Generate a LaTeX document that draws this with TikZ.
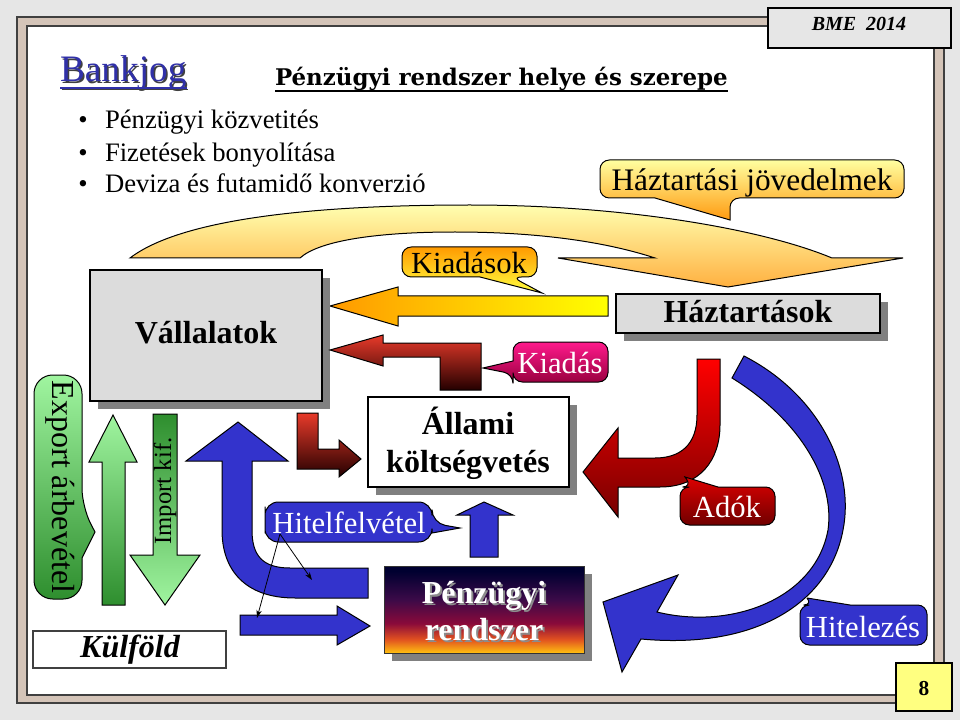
\documentclass[tikz,border=0pt]{standalone}
\usepackage{fontspec}
\setmainfont{Liberation Serif}
\newfontfamily\titlefont{DejaVu Serif}
\usetikzlibrary{arrows.meta}
\definecolor{bgray}{HTML}{E6E6E6}
\definecolor{tanc}{HTML}{D4C4B8}
\definecolor{darkline}{HTML}{404040}
\definecolor{bankblue}{HTML}{3030A8}
\definecolor{pageyellow}{HTML}{FFFF80}
\definecolor{myblue}{HTML}{3333CC}
\definecolor{boxgray}{HTML}{DCDCDC}
\definecolor{shadowgray}{HTML}{808080}
\definecolor{archtop}{HTML}{FFFFB0}
\definecolor{archbot}{HTML}{FFB040}
\definecolor{hjtop}{HTML}{FFFFA0}
\definecolor{hjbot}{HTML}{FF9A10}
\definecolor{kstop}{HTML}{FF9A00}
\definecolor{ksbot}{HTML}{FFFF40}
\definecolor{yarrL}{HTML}{FF9900}
\definecolor{yarrR}{HTML}{FFFF00}
\definecolor{redtop}{HTML}{E83A2A}
\definecolor{redbot}{HTML}{240000}
\definecolor{kdtop}{HTML}{FF1A8C}
\definecolor{kdbot}{HTML}{9A0040}
\definecolor{adarrtop}{HTML}{FF0000}
\definecolor{adarrbot}{HTML}{780000}
\definecolor{adtop}{HTML}{DD0000}
\definecolor{adbot}{HTML}{700000}
\definecolor{pztop}{HTML}{000030}
\definecolor{pzpurple}{HTML}{3A0A48}
\definecolor{pzmid}{HTML}{8A0A3A}
\definecolor{pzorange}{HTML}{E05020}
\definecolor{pzbot}{HTML}{FFC010}
\definecolor{glight}{HTML}{A0F5A0}
\definecolor{gdark}{HTML}{2E8E2E}
\pgfdeclareverticalshading{pzshade}{100bp}{color(0bp)=(pzbot); color(25bp)=(pzbot); color(33bp)=(pzorange); color(42bp)=(pzmid); color(56bp)=(pzpurple); color(72bp)=(pztop); color(100bp)=(pztop)}
\tikzset{
  ol/.style={draw=black,line width=0.75pt},
  boxthick/.style={draw=black,line width=2.2pt},
  txt/.style={inner sep=0pt,outer sep=0pt},
  fbul/.style={font=\fontsize{20pt}{24pt}\selectfont},
  fcall/.style={font=\fontsize{23pt}{27pt}\selectfont},
  fbox/.style={font=\fontsize{24pt}{28pt}\selectfont\bfseries},
}
\begin{document}
\begin{tikzpicture}[x=0.75pt,y=-0.75pt]
\useasboundingbox (0,0) rectangle (960,720);
\fill[bgray] (0,0) rectangle (960,720);
\filldraw[fill=tanc,draw=darkline,line width=0.8pt] (17,17) rectangle (944,703);
\filldraw[fill=white,draw=darkline,line width=0.8pt] (27,26) rectangle (934,695);

% titles
\node[txt,anchor=base west,font=\fontsize{28pt}{32pt}\selectfont,text=black!75] (bankjogsh) at (61.5,83.5) {Bankjog};
\draw[black!75,line width=1.1pt] ([yshift=-4.5pt]bankjogsh.base west) -- ([yshift=-4.5pt]bankjogsh.base east);
\node[txt,anchor=base west,font=\fontsize{28pt}{32pt}\selectfont,text=bankblue] (bankjog) at (60,82) {Bankjog};
\draw[bankblue,line width=1.1pt] ([yshift=-4.5pt]bankjog.base west) -- ([yshift=-4.5pt]bankjog.base east);
\node[txt,anchor=base west,font=\fontsize{17.2pt}{20pt}\selectfont\titlefont\bfseries] (title) at (275,86) {Pénzügyi rendszer helye és szerepe};
\draw[black,line width=1.1pt] ([yshift=-3.9pt]title.base west) -- ([yshift=-3.9pt]title.base east);

% bullets
\node[txt,anchor=base,fbul] (b1) at (83,129) {\textbullet};
\node[txt,anchor=base,fbul] (b2) at (83,162) {\textbullet};
\node[txt,anchor=base,fbul] (b3) at (83,193) {\textbullet};
\node[txt,anchor=base west,fbul] (t1) at (105,129) {Pénzügyi közvetités};
\node[txt,anchor=base west,fbul] (t2) at (105,162) {Fizetések bonyolítása};
\node[txt,anchor=base west,fbul] (t3) at (105,193) {Deviza és futamidő konverzió};

% big yellow arch
\shadedraw[ol,top color=archtop,bottom color=archbot] (130,258) .. controls (185,216) and (330,205) .. (470,205) .. controls (620,205) and (760,228) .. (832,258) -- (903,258) -- (728,287) -- (558,258) -- (655,258) .. controls (600,240) and (530,232) .. (455,232) .. controls (380,232) and (320,240) .. (300,258) -- cycle;

% Haztartasi jovedelmek callout
\shadedraw[ol,top color=hjtop,bottom color=hjbot] (700,160) [rounded corners=7pt] -- (904,160) -- (904,198) -- (730,198) [sharp corners] -- (730,220) -- (655,198) [rounded corners=7pt] -- (600,198) -- (600,160) -- cycle;
\node[txt,anchor=base,font=\fontsize{23.5pt}{27pt}\selectfont] (hj) at (752,191) {Háztartási jövedelmek};

% Kiadasok callout
\shadedraw[ol,top color=kstop,bottom color=ksbot] (470,247) [rounded corners=7pt] -- (537,247) -- (537,277) -- (512,277) [sharp corners] -- (542,293) -- (480,277) [rounded corners=7pt] -- (402,277) -- (402,247) -- cycle;
\node[txt,anchor=base,fcall] (kiadasok) at (469,274) {Kiadások};

% yellow left arrow
\shadedraw[ol,left color=yarrL,right color=yarrR] (608,296) -- (608,316) -- (398,316) -- (398,326) -- (330,306) -- (398,287) -- (398,296) -- cycle;

% Vallalatok
\fill[shadowgray] (98,278) rectangle (330,409);
\filldraw[fill=boxgray,boxthick] (90,270) rectangle (322,401);
\node[txt,anchor=base,fbox] (vall) at (206,344) {Vállalatok};

% Haztartasok
\fill[shadowgray] (624,302) rectangle (888,341);
\filldraw[fill=boxgray,boxthick] (616,294) rectangle (880,333);
\node[txt,anchor=base,fbox] (hazt) at (748,322) {Háztartások};

% Allami koltsegvetes
\fill[shadowgray] (376,405) rectangle (577,495);
\filldraw[fill=white,boxthick] (368,397) rectangle (569,487);
\node[txt,anchor=base,fbox] (allami1) at (468,434) {Állami};
\node[txt,anchor=base,fbox] (allami2) at (468,472) {költségvetés};

% red L arrow (Kiadas)
\shadedraw[ol,top color=redtop,bottom color=redbot] (481,343) -- (481,390) -- (440,390) -- (440,357) -- (383,357) -- (383,366) -- (330,350) -- (383,335) -- (383,343) -- cycle;
% small red L arrow
\shadedraw[ol,top color=redtop,bottom color=redbot] (297,413) -- (318,413) -- (318,449) -- (339,449) -- (339,440) -- (361,459) -- (339,477) -- (339,469) -- (297,469) -- cycle;

% Kiadas callout
\shadedraw[ol,top color=kdtop,bottom color=kdbot] (560,342) [rounded corners=7pt] -- (608,342) -- (608,382) -- (513,382) -- (513,374) [sharp corners] -- (483,368) -- (513,361) [rounded corners=7pt] -- (513,342) -- cycle;
\node[txt,anchor=base,fcall,text=white] (kiadas) at (560,373) {Kiadás};

% Adok curved arrow
\shadedraw[ol,top color=adarrtop,bottom color=adarrbot] (697,359) -- (697,415) .. controls (697,445) and (680,458) .. (655,458) -- (618,458) -- (618,428) -- (583,472) -- (618,517) -- (618,487) -- (660,487) .. controls (700,487) and (720,460) .. (720,425) -- (720,359) -- cycle;
% Adok callout
\shadedraw[ol,top color=adtop,bottom color=adbot] (740,487) [rounded corners=7pt] -- (775,487) -- (775,525) -- (680,525) -- (680,487) -- (692,487) [sharp corners] -- (685,477) -- (718,487) [rounded corners=7pt] -- cycle;
\node[txt,anchor=base,fcall,text=white] (adok) at (727,517) {Adók};

% blue curved arrow (Hitelezes)
\filldraw[ol,fill=myblue] (744,356) .. controls (820,395) and (855,470) .. (843,530) .. controls (830,600) and (760,650) .. (641,639) -- (622,672) -- (603,602) -- (678,575) -- (657,612) .. controls (730,630) and (815,600) .. (828,530) .. controls (835,480) and (800,420) .. (732,378) -- cycle;
% Hitelezes callout
\filldraw[ol,fill=myblue] (880,605) [rounded corners=7pt] -- (927,605) -- (927,645) -- (800,645) -- (800,605) -- (813,605) [sharp corners] -- (807,598) -- (850,605) [rounded corners=7pt] -- cycle;
\node[txt,anchor=base,fcall,text=white] (hitelezes) at (863,637) {Hitelezés};

% blue U arrow
\filldraw[ol,fill=myblue] (222,461) -- (186,461) -- (238,422) -- (288,461) -- (252,461) -- (252,530) .. controls (252,555) and (262,568) .. (290,568) -- (368,568) -- (368,598) -- (295,598) .. controls (245,598) and (222,570) .. (222,530) -- cycle;
% blue right arrow
\filldraw[ol,fill=myblue] (240,615) -- (337,615) -- (337,606) -- (370,626) -- (337,645) -- (337,635) -- (240,635) -- cycle;
% Hitelfelvetel callout
\filldraw[ol,fill=myblue] (265,520) [rounded corners=10pt] -- (265,502) -- (432,502) -- (432,523) [sharp corners] -- (460,528) -- (432,533) [rounded corners=10pt] -- (432,542) -- (265,542) -- cycle;
\node[txt,anchor=base,fcall,text=white] (hitelf) at (349,533) {Hitelfelvétel};
% blue up arrow
\filldraw[ol,fill=myblue] (470,557) -- (470,515) -- (457,515) -- (484,502) -- (513,515) -- (498,515) -- (498,557) -- cycle;

% Penzugyi rendszer
\fill[shadowgray] (392,574) rectangle (592,661);
\shadedraw[shading=pzshade,draw=black!80,line width=0.75pt] (384,566) rectangle (584,653);
\node[txt,anchor=base,fbox,text=black!45] (pr1sh) at (486,605) {Pénzügyi};
\node[txt,anchor=base,fbox,text=black!45] (pr2sh) at (486,642) {rendszer};
\node[txt,anchor=base,fbox,text=white] (pr1) at (484,603) {Pénzügyi};
\node[txt,anchor=base,fbox,text=white] (pr2) at (484,640) {rendszer};

% green arrows
\shadedraw[ol,top color=glight,bottom color=gdark] (34,480) [rounded corners=14pt] -- (34,375) -- (82,375) -- (82,507) [sharp corners] -- (95,532) -- (82,558) [rounded corners=14pt] -- (82,599) -- (34,599) -- cycle;
\node[txt,rotate=-90,font=\fontsize{24pt}{28pt}\selectfont] (export) at (60,487) {Export árbevétel};
\shadedraw[ol,top color=glight,bottom color=gdark] (102,605) -- (102,462) -- (89,462) -- (113,415) -- (137,462) -- (125,462) -- (125,605) -- cycle;
\shadedraw[ol,top color=gdark,bottom color=glight] (153,414) -- (177,414) -- (177,555) -- (200,555) -- (165,605) -- (130,555) -- (153,555) -- cycle;
\node[txt,rotate=90,font=\fontsize{18.5pt}{22pt}\selectfont] (import) at (165,491) {Import kif.};

% Kulfold
\filldraw[fill=white,draw=darkline,line width=0.9pt] (33,631) rectangle (226,668);
\node[txt,anchor=base,font=\fontsize{24pt}{28pt}\selectfont\bfseries\itshape] (kulf) at (130,657) {Külföld};

% thin arrows from Hitelfelvetel
\coordinate (hfsrc) at (280,534);
\coordinate (hfa) at (312,580);
\coordinate (hfb) at (257,618);
\draw[line width=0.6pt,-{Stealth[length=6pt,width=4pt]}] (hfsrc) -- (hfa);
\draw[line width=0.6pt,-{Stealth[length=6pt,width=4pt]}] (hfsrc) -- (hfb);

% BME box
\filldraw[fill=bgray,draw=black,line width=0.8pt] (768,8) rectangle (951,48);
\node[txt,anchor=base,font=\fontsize{15pt}{18pt}\selectfont\bfseries\itshape] (bme) at (859,31) {BME\ \ 2014};
% page number
\filldraw[fill=pageyellow,draw=black,line width=0.8pt] (896,663) rectangle (952,711);
\node[txt,anchor=base,font=\fontsize{16pt}{18pt}\selectfont\bfseries] (pnum) at (924,695) {8};
\end{tikzpicture}
\end{document}
